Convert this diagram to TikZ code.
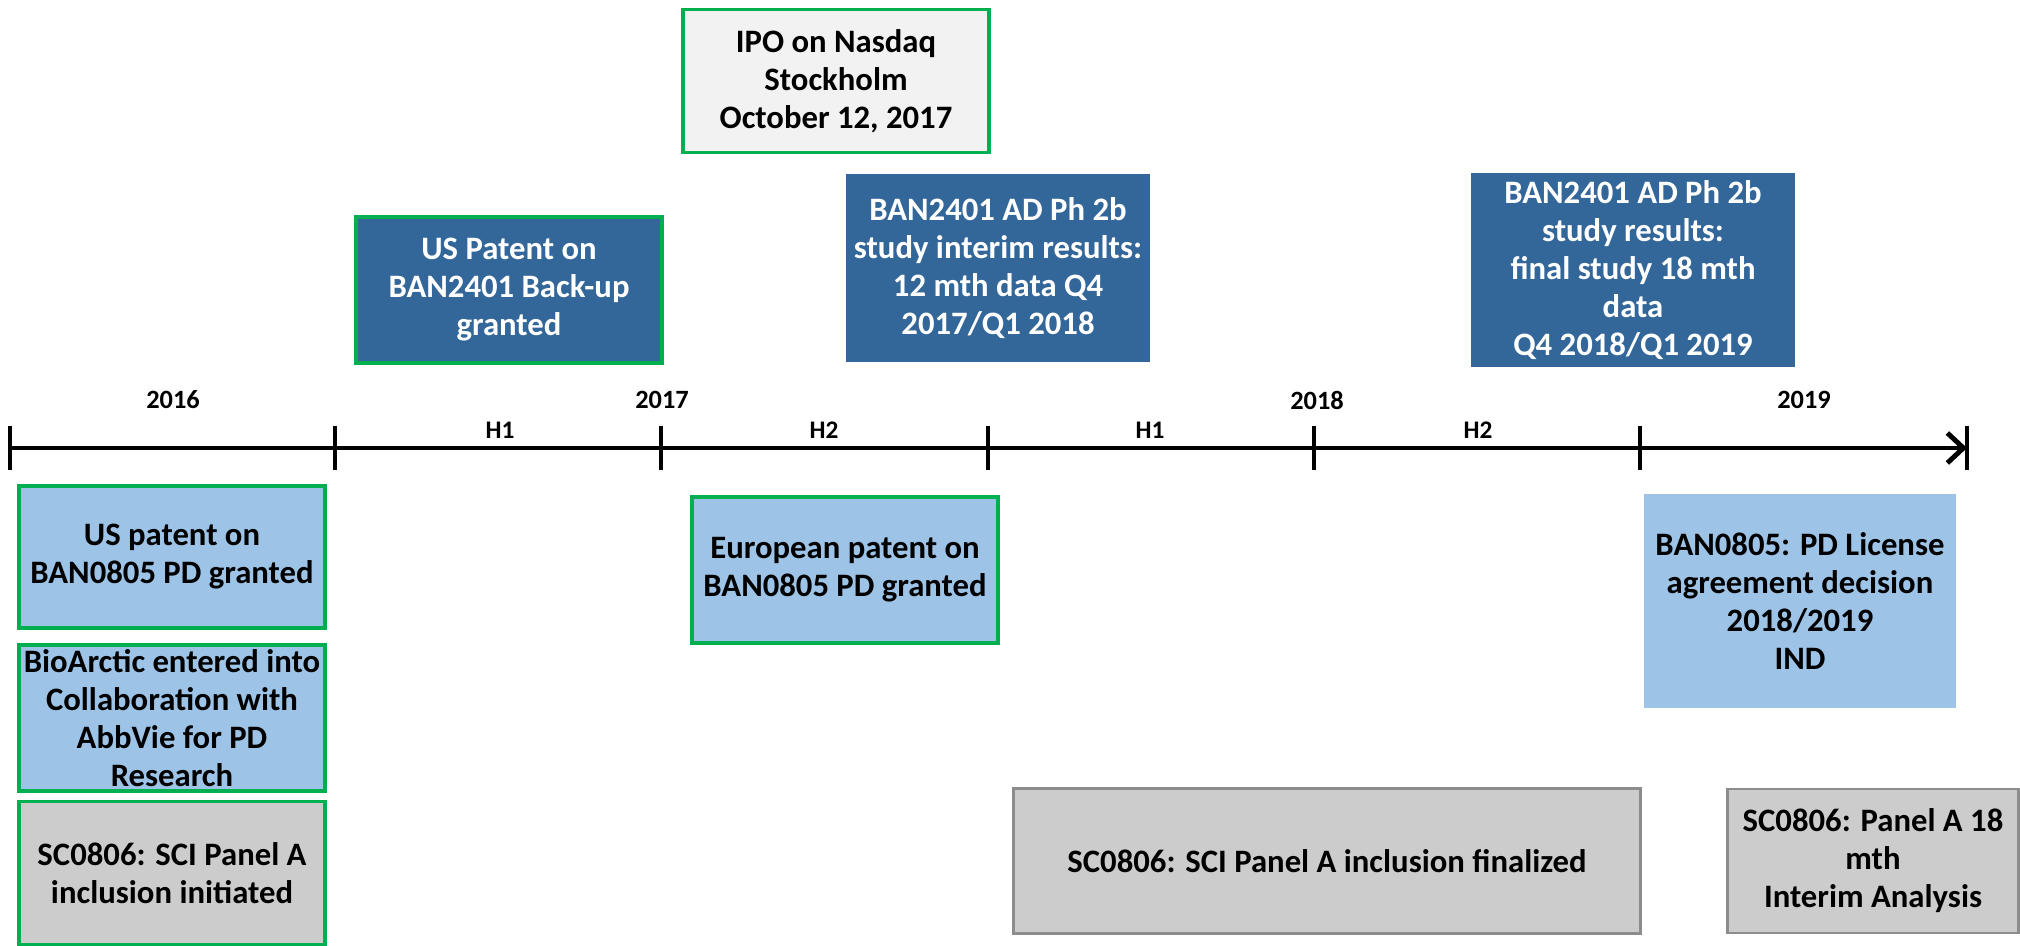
\documentclass[tikz,border=0pt]{standalone}
\usepackage{fontspec}
\setmainfont{Carlito}
\usepackage{tikz}
\usetikzlibrary{arrows.meta}
\usetikzlibrary{positioning}
\definecolor{bandark}{HTML}{336699}
\definecolor{banlight}{HTML}{9DC3E6}
\definecolor{scgray}{HTML}{CCCCCC}
\definecolor{scedge}{HTML}{8C8C8C}
\definecolor{ipofill}{HTML}{F2F2F2}
\definecolor{okgreen}{HTML}{00B050}
\tikzset{
    milestone/.style={
        rectangle,
        align=center,
        inner xsep=0.5pt,
        inner ysep=1pt,
        font=\fontsize{9.3}{10.8}\selectfont\bfseries
    },
    darkbox/.style={milestone, fill=bandark, text=white},
    lightbox/.style={milestone, fill=banlight},
    graybox/.style={milestone, fill=scgray, draw=scedge, line width=0.8pt},
    ipobox/.style={milestone, fill=ipofill},
    done/.style={draw=okgreen, line width=1pt},
    yearlabel/.style={font=\fontsize{7.5}{8}\selectfont\bfseries, inner sep=0pt},
    halflabel/.style={font=\fontsize{7.2}{8}\selectfont\bfseries, inner sep=0pt}
}

\begin{document}
\begin{tikzpicture}[x=0.01cm, y=-0.01cm]
    \useasboundingbox (0,0) rectangle (2020,946);

    % Timeline
    \coordinate (start) at (10,448);
    \coordinate (stop) at (1967,448);
    \draw[line width=1.4pt, -{Straight Barb[length=1.6mm, width=3mm]}] (start) -- (stop);
    \foreach \x in {10,335,661,988,1314,1640,1967}
        \draw[line width=0.9pt] (\x,426) -- (\x,470);
    \foreach \x/\yr in {173/2016, 662/2017, 1317/2018, 1804/2019}
        \node[yearlabel] (y\yr) at (\x,400) {\yr};
    \foreach \x/\h/\n in {500/H1/a, 824/H2/b, 1150/H1/c, 1478/H2/d}
        \node[halflabel] (h\n) at (\x,430) {\h};

    % Above the line
    \node[ipobox, done, minimum width=3.06cm, minimum height=1.43cm] (ipo) at (836,81)
        {IPO on Nasdaq\\Stockholm\\October 12, 2017};
    \node[darkbox, done, minimum width=3.06cm, minimum height=1.46cm] (backup) at (509,290)
        {US Patent on\\BAN2401 Back-up\\granted};
    \node[darkbox, minimum width=3.04cm, minimum height=1.88cm] (interim) at (998,268)
        {BAN2401 AD Ph 2b\\study interim results:\\12 mth data Q4\\2017/Q1 2018};
    \node[darkbox, minimum width=3.23cm, minimum height=1.94cm] (final) at (1633,270)
        {BAN2401 AD Ph 2b\\study results:\\final study 18 mth\\data\\Q4 2018/Q1 2019};

    % Below the line
    \node[lightbox, done, minimum width=3.06cm, minimum height=1.42cm] (uspd) at (172,557)
        {US patent on\\BAN0805 PD granted};
    \node[lightbox, done, minimum width=3.06cm, minimum height=1.46cm] (abbvie) at (172,718)
        {BioArctic entered into\\Collaboration with\\AbbVie for PD\\Research};
    \node[graybox, done, minimum width=3.06cm, minimum height=1.43cm] (scstart) at (172,873)
        {SC0806: SCI Panel A\\inclusion initiated};
    \node[lightbox, done, minimum width=3.06cm, minimum height=1.46cm] (eupd) at (845,570)
        {European patent on\\BAN0805 PD granted};
    \node[lightbox, minimum width=3.12cm, minimum height=2.14cm] (license) at (1800,601)
        {BAN0805: PD License\\agreement decision\\2018/2019\\IND};
    \node[graybox, minimum width=6.26cm, minimum height=1.45cm] (scend) at (1327,861)
        {SC0806: SCI Panel A inclusion finalized};
    \node[graybox, minimum width=2.91cm, minimum height=1.44cm] (scpanel) at (1873,861)
        {SC0806: Panel A 18\\mth\\Interim Analysis};
\end{tikzpicture}
\end{document}
